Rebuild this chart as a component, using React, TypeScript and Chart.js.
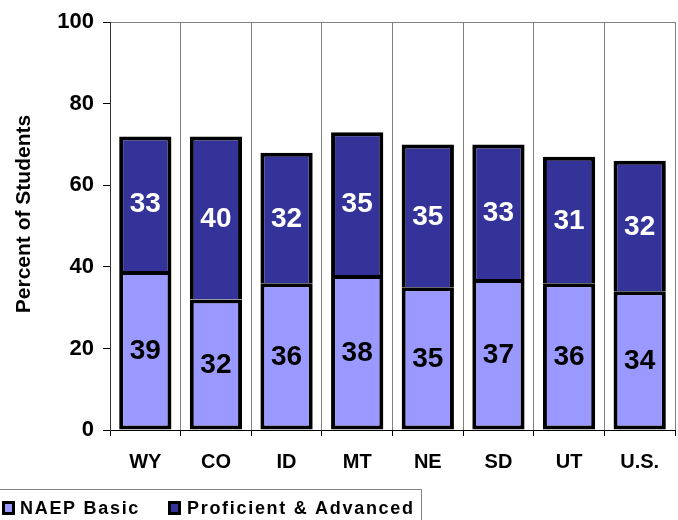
import React, { useEffect, useRef } from "react";
import { Chart, registerables } from "chart.js";

Chart.register(...registerables);

const categories = ["WY", "CO", "ID", "MT", "NE", "SD", "UT", "U.S."];
const basicValues = [39, 32, 36, 38, 35, 37, 36, 34];
const proficientValues = [33, 40, 32, 35, 35, 33, 31, 32];
const seriesNames = ["NAEP Basic", "Proficient & Advanced"];
const yTicks = [0, 20, 40, 60, 80, 100];

const FONT = "Arial, 'Liberation Sans', sans-serif";
const LIGHT = "#9999FF";
const DARK = "#333399";

const labelPlugin = {
  id: "segLabels",
  afterDatasetsDraw(chart: any) {
    const ctx = chart.ctx;
    ctx.save();
    ctx.font = `bold 28px ${FONT}`;
    ctx.textAlign = "center";
    ctx.textBaseline = "middle";
    chart.data.datasets.forEach((ds: any, di: number) => {
      const meta = chart.getDatasetMeta(di);
      meta.data.forEach((el: any, i: number) => {
        const p = el.getProps(["x", "y", "base"], true);
        ctx.fillStyle = di === 0 ? "#000" : "#fff";
        ctx.fillText(String(ds.data[i]), p.x, (p.y + p.base) / 2 + 1);
      });
    });
    ctx.restore();
  },
};

const extrasPlugin = {
  id: "extras",
  afterDraw(chart: any) {
    const ctx = chart.ctx;
    ctx.save();
    // y title
    ctx.translate(24, 214);
    ctx.rotate(-Math.PI / 2);
    ctx.font = `bold 21px ${FONT}`;
    ctx.fillStyle = "#000";
    ctx.textAlign = "center";
    ctx.textBaseline = "middle";
    ctx.fillText("Percent of Students", 0, 0);
    ctx.restore();

    // legend
    ctx.save();
    ctx.strokeStyle = "#808080";
    ctx.lineWidth = 1;
    ctx.beginPath();
    ctx.moveTo(-2, 489.5);
    ctx.lineTo(421.5, 489.5);
    ctx.lineTo(421.5, 530);
    ctx.stroke();
    const items = [
      { x: 2, tx: 20, color: LIGHT, text: seriesNames[0] },
      { x: 168, tx: 187, color: DARK, text: seriesNames[1] },
    ];
    ctx.font = `bold 18px ${FONT}`;
    (ctx as any).letterSpacing = "1.7px";
    ctx.textBaseline = "middle";
    ctx.textAlign = "left";
    items.forEach((it) => {
      ctx.fillStyle = "#000";
      ctx.fillRect(it.x, 501, 13, 14);
      ctx.fillStyle = it.color;
      ctx.fillRect(it.x + 3, 504, 7, 8);
      ctx.fillStyle = "#000";
      ctx.fillText(it.text, it.tx, 509);
    });
    ctx.restore();
  },
};

export default function App() {
  const ref = useRef<HTMLCanvasElement>(null);
  useEffect(() => {
    if (!ref.current) return;
    const chart = new Chart(ref.current, {
      type: "bar",
      data: {
        labels: categories,
        datasets: [
          {
            label: seriesNames[0],
            data: basicValues,
            backgroundColor: LIGHT,
            borderColor: "#000",
            borderWidth: 4,
            borderSkipped: false,
            barPercentage: 0.74,
            categoryPercentage: 1,
          },
          {
            label: seriesNames[1],
            data: proficientValues,
            backgroundColor: DARK,
            borderColor: "#000",
            borderWidth: 4,
            borderSkipped: "start",
            barPercentage: 0.74,
            categoryPercentage: 1,
          },
        ],
      },
      options: {
        responsive: false,
        animation: false,
        devicePixelRatio: 1,
        layout: { padding: { left: 0, right: 3, top: 22, bottom: 40 } },
        plugins: {
          legend: { display: false },
          tooltip: { enabled: false },
        },
        scales: {
          x: {
            stacked: true,
            afterFit: (s: any) => {
              s.height = 50;
            },
            grid: {
              display: true,
              offset: true,
              color: "#808080",
              lineWidth: 1,
              tickColor: "#000",
              tickLength: 6,
            },
            border: { color: "#000", width: 1 },
            ticks: {
              color: "#000",
              font: { family: FONT, size: 20, weight: "bold" },
              padding: 14,
            },
          },
          y: {
            stacked: true,
            min: 0,
            max: 100,
            afterFit: (s: any) => {
              s.width = 110;
            },
            afterBuildTicks: (s: any) => {
              s.ticks = yTicks.map((v) => ({ value: v }));
            },
            grid: {
              color: (c: any) => (c.tick && c.tick.value === 100 ? "#808080" : "rgba(0,0,0,0)"),
              tickColor: "#000",
              tickLength: 7,
              lineWidth: 1,
            },
            border: { color: "#333", width: 1 },
            ticks: {
              color: "#000",
              font: { family: FONT, size: 22, weight: "bold" },
              padding: 9,
            },
          },
        },
      },
      plugins: [labelPlugin, extrasPlugin],
    } as any);
    return () => chart.destroy();
  }, []);
  return (
    <canvas
      ref={ref}
      width={678}
      height={520}
      style={{ position: "fixed", left: 0, top: 0, width: 678, height: 520 }}
    />
  );
}
